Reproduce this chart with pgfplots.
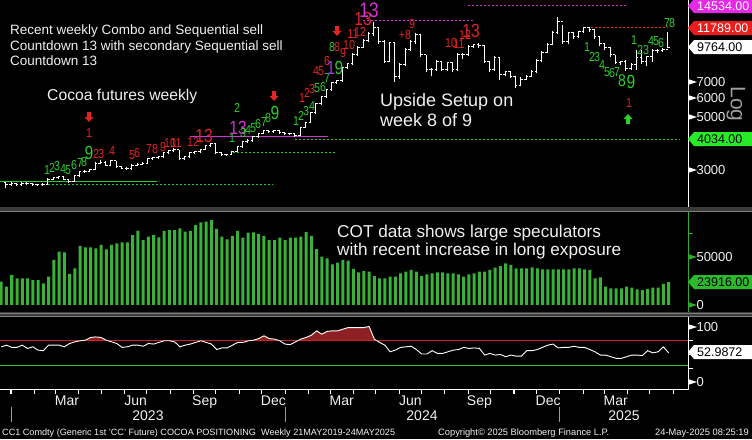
\documentclass[border=0pt]{standalone}
\usepackage{pgfplots}
\pgfplotsset{compat=1.18}
\usepackage{pgfplotstable}
\usepackage{fontspec}
\setmainfont{Liberation Sans}

\definecolor{tdgreen}{RGB}{45,205,45}
\definecolor{tdred}{RGB}{228,35,35}
\definecolor{tdmag}{RGB}{212,50,212}
\definecolor{tdpurple}{RGB}{150,60,215}
\definecolor{tagmag}{RGB}{232,40,232}
\definecolor{tagred}{RGB}{235,30,30}
\definecolor{taggreen}{RGB}{40,235,40}
\definecolor{cottag}{RGB}{45,185,45}
\definecolor{cotgreen}{RGB}{58,178,58}
\definecolor{cotaxis}{RGB}{50,170,50}
\definecolor{oscfill}{RGB}{140,32,34}
\definecolor{oscred}{RGB}{215,30,30}
\definecolor{oscgreen}{RGB}{50,195,50}
\definecolor{sepgray}{RGB}{58,58,58}
\definecolor{txt}{RGB}{240,240,240}

% open / close ticks of the weekly bars
\pgfdeclareplotmark{otick}{\pgfpathmoveto{\pgfqpoint{-2pt}{0pt}}\pgfpathlineto{\pgfqpoint{0pt}{0pt}}\pgfusepathqstroke}
\pgfdeclareplotmark{ctick}{\pgfpathmoveto{\pgfqpoint{0pt}{0pt}}\pgfpathlineto{\pgfqpoint{2pt}{0pt}}\pgfusepathqstroke}

% weekly OHLC, x = days since 1 Jan 2023
\pgfplotstableread{
d o h l c
-7 2650 2680 2523 2597
0 2597 2660 2580 2622
7 2622 2650 2570 2597
14 2597 2660 2580 2622
21 2622 2665 2590 2622
28 2622 2640 2570 2597
35 2597 2630 2565 2597
42 2597 2635 2560 2597
49 2600 2780 2590 2751
56 2751 2810 2730 2778
63 2778 2830 2750 2805
70 2805 2820 2730 2751
77 2751 2760 2650 2673
84 2673 2860 2660 2832
91 2832 2970 2815 2943
98 2943 3010 2920 2971
105 2971 3040 2940 3000
112 3000 3240 2990 3208
119 3208 3290 3180 3239
126 3239 3260 3120 3147
133 3147 3300 3130 3271
140 3271 3280 3060 3088
147 3088 3110 3030 3058
154 3058 3080 3000 3029
161 3029 3170 3010 3147
168 3147 3210 3120 3178
175 3178 3240 3150 3208
182 3208 3370 3190 3335
189 3335 3400 3310 3367
196 3367 3440 3340 3400
203 3400 3570 3380 3533
210 3533 3640 3500 3602
217 3602 3690 3570 3637
224 3637 3650 3300 3335
231 3335 3440 3310 3400
238 3400 3560 3380 3533
245 3533 3610 3500 3567
252 3567 3680 3540 3637
259 3637 3820 3620 3780
266 3780 3900 3750 3853
273 3853 3870 3500 3533
280 3533 3560 3430 3466
287 3466 3500 3430 3466
294 3466 3600 3450 3567
301 3567 3780 3550 3743
308 3743 3970 3720 3928
315 3928 4020 3900 3966
322 3966 4170 3940 4122
329 4122 4290 4090 4242
336 4242 4420 4220 4367
343 4367 4400 4280 4325
350 4325 4410 4290 4367
357 4367 4390 4250 4283
364 4283 4310 4200 4242
371 4242 4280 4200 4242
378 4242 4270 4130 4161
385 4161 4540 4140 4495
392 4495 4760 4470 4716
399 4716 5250 4690 5193
406 5193 5720 5160 5663
413 5663 6120 5600 6057
420 6057 6560 6000 6479
427 6479 7000 6400 6931
434 6931 7150 6850 7066
441 7066 8080 7000 8007
448 8007 8420 7950 8322
455 8322 9200 8250 9074
462 9074 9850 9000 9707
469 9707 10550 9650 10383
476 10383 11300 10300 11107
483 11107 12468 10900 11767
490 11767 11800 10100 10284
497 10284 10500 8400 8483
504 8483 10285 8450 10185
511 10185 10300 6998 7343
518 7343 8400 7200 8242
525 8242 9650 8150 9522
532 9522 10450 9400 10284
539 10284 11214 10100 11000
546 11000 11000 8900 9074
553 9074 9100 7700 7855
560 7855 8000 7400 7855
567 7855 8600 7800 8483
574 8483 8500 7750 7855
581 7855 8500 7800 8402
588 8402 8450 7700 7855
595 7855 9200 7800 9074
602 9074 9250 8700 9074
609 9074 9950 9000 9801
616 9801 10100 9700 9991
623 9991 10185 9700 9896
630 9896 9950 8400 8483
637 8483 8550 7700 7855
644 7855 8950 7800 8817
651 8817 8850 7134 7485
658 7485 7800 7400 7704
665 7704 7750 7250 7343
672 7343 7400 6605 6733
679 6733 7300 6700 7134
686 7134 7485 7100 7343
693 7343 7855 7300 7704
700 7704 8700 7650 8566
707 8566 9400 8500 9250
714 9250 10150 9200 9991
721 9991 11400 9950 11214
728 11214 13082 11100 12468
735 12468 12112 10088 10284
742 10284 11323 10100 11214
749 11214 11300 10600 10791
756 10791 11450 10700 11323
763 11323 11881 11200 11767
770 11767 11881 11300 11543
777 11543 11600 10600 10791
784 10791 10900 9900 10088
791 10088 10185 9522 9707
798 9707 9800 8900 9074
805 9074 9100 8300 8402
812 8402 8566 8242 8483
819 8483 8600 7779 7931
826 7931 8400 7855 8242
833 8242 9522 7855 8817
840 8817 9522 8322 8483
847 8483 9000 8150 8902
854 8902 9600 8483 9430
861 9430 9600 9250 9430
868 9430 9707 9340 9522
875 9522 11323 9707 9764
}\price

% COT large speculators net position and positioning index, weekly
\pgfplotstableread{
d cot osc
-13 24300 64
-6 19100 67
1 31250 63
8 27800 63
15 27800 67
22 27800 61
29 26000 64
36 26000 58
43 22600 57
50 29500 67
57 46900 67
64 55500 67
71 54900 64
78 32300 70
85 38200 73
92 61500 75
99 60100 76
106 60100 81
113 59000 82
120 62500 81
127 58000 76
134 62500 73
141 64200 70
148 65300 63
155 65300 64
162 72900 67
169 77400 67
176 67700 65
183 71200 70
190 72900 69
197 70500 72
204 77100 75
211 78100 75
218 78100 73
225 79900 64
232 76400 67
239 77100 69
246 83300 72
253 86100 75
260 86800 72
267 88500 69
274 79200 59
281 71200 62
288 68400 62
295 71900 67
302 77100 72
309 70100 72
316 75300 75
323 75700 76
330 74000 79
337 71900 84
344 67700 79
351 67700 78
358 70100 75
365 67700 69
372 70100 68
379 70100 73
386 71200 78
393 76000 81
400 71900 85
407 58300 93
414 50300 87
421 48600 92
428 42400 93
435 44100 93
442 46900 96
449 46200 99
456 37500 99
463 34000 99
470 35400 99
477 34700 101
484 30200 78
491 27800 72
498 27800 67
505 29500 55
512 29500 58
519 33000 63
526 34700 64
533 36500 65
540 34700 59
547 30200 51
554 31900 51
561 33000 57
568 34000 52
575 34000 52
582 33000 55
589 33000 58
596 31900 59
603 29500 63
610 31900 61
617 33000 62
624 34700 61
631 34700 49
638 36500 52
645 38900 49
652 40600 50
659 43400 46
666 41700 49
673 38200 47
680 38200 47
687 38200 57
694 39200 57
701 38200 59
708 37200 63
715 37200 67
722 37200 69
729 37200 62
736 37200 63
743 37200 63
750 38200 65
757 38200 63
764 37200 63
771 36500 59
778 27800 55
785 28800 49
792 19100 49
799 17400 46
806 17400 43
813 17400 43
820 19100 46
827 18100 49
834 16300 49
841 15600 48
848 16700 57
855 18100 53
862 18100 55
869 21900 64
876 23916 53
}\cot

\pgfplotsset{bbg/.style={
  scale only axis, width=688pt, anchor=south west,
  xmin=-14.65, xmax=901.8,
  separate axis lines,
  axis y line*=right,
  y axis line style={white, line width=1pt, -},
  tick align=outside, major tick length=5pt,
  tick style={white, line width=1pt},
  yticklabel style={text=txt, font=\fontsize{13}{13}\selectfont},
}}
\pgfplotsset{nox/.style={axis x line*=bottom, x axis line style={draw=none}, xtick=\empty}}

\newcommand\td[5]{\node[text=#3, font=\fontsize{#4}{#4}\selectfont, inner sep=0pt, xscale=0.82] at (#1,#2) {#5};}
\newcommand\tagbox[4]{\fill[#2] (688,#1) -- (694,#1-7) -- (752,#1-7) -- (752,#1+7) -- (694,#1+7) -- cycle;
  \node[text=#3, anchor=west, inner sep=0pt, font=\fontsize{12.5}{12.5}\selectfont] at (697,#1) {#4};}
\newcommand\darrow[3]{\fill[#3] (#1-2,#2-5) -- (#1+2,#2-5) -- (#1+2,#2) -- (#1+4.5,#2) -- (#1,#2+5) -- (#1-4.5,#2) -- (#1-2,#2) -- cycle;}
\newcommand\uarrow[3]{\fill[#3] (#1-2,#2+5) -- (#1+2,#2+5) -- (#1+2,#2) -- (#1+4.5,#2) -- (#1,#2-5) -- (#1-4.5,#2) -- (#1-2,#2) -- cycle;}
\newcommand\tri[2]{\fill[#2] (688.5,#1-2.8) -- (697,#1) -- (688.5,#1+2.8) -- cycle;}

\begin{document}
\begin{tikzpicture}
\fill[black] (0,0) rectangle (752pt,-439pt);

% ---- price panel ----
\begin{axis}[bbg, nox, at={(0pt,-207pt)}, height=207pt,
  ymode=log, ymin=2101, ymax=15370,
  ytick={3000,5000,6000,7000}, yticklabels={3000,5000,6000,7000}, minor ytick={},
]
\addplot[tdgreen, line width=1pt] coordinates {(-15,2673) (194,2673)};
\addplot[tdgreen, line width=1pt, dash pattern=on 2pt off 2pt] coordinates {(49,2597) (349,2597)};
\addplot[tdgreen, line width=1pt, dash pattern=on 2pt off 2pt] coordinates {(296,3533) (434,3533)};
\addplot[tdgreen, line width=1pt, dash pattern=on 2pt off 2pt] coordinates {(378,4034) (891,4034)};
\addplot[tdmag, line width=1.2pt] coordinates {(238,4141) (422,4141)};
\addplot[tdmag, line width=1pt, dash pattern=on 2pt off 2pt] coordinates {(469,12620) (615,12620)};
\addplot[tdmag, line width=1pt, dash pattern=on 2pt off 2pt] coordinates {(609,14534) (821,14534)};
\addplot[tdred, line width=1pt, dash pattern=on 2pt off 2pt] coordinates {(767,11789) (874,11789)};
\addplot[white, line width=0.9pt, only marks, mark=ctick,
  error bars/.cd, y dir=both, y explicit, error mark=none,
  error bar style={white, line width=0.9pt}]
  table[x=d, y=c, y error plus expr={\thisrow{h}-\thisrow{c}},
        y error minus expr={\thisrow{c}-\thisrow{l}}] {\price};
\addplot[white, line width=0.9pt, only marks, mark=otick] table[x=d, y=o] {\price};
\end{axis}

% ---- COT panel ----
\begin{axis}[bbg, nox, at={(0pt,-312pt)}, height=100pt,
  ymin=-7300, ymax=96875,
  y axis line style={cotaxis, line width=1pt, -}, tick style={cotaxis, line width=1pt},
  ytick={0,50000}, yticklabels={0,50000}, scaled y ticks=false,
  extra y ticks={75000}, extra y tick labels={},
]
\addplot[ybar, bar width=4, fill=cotgreen, draw=none] table[x=d, y=cot] {\cot};
\end{axis}

% ---- positioning index panel ----
\begin{axis}[bbg, at={(0pt,-389pt)}, height=72pt,
  ymin=-12.7, ymax=118.2,
  axis x line*=bottom, x axis line style={white, line width=1pt, -},
  xtick={0,31,59,90,120,151,181,212,243,273,304,334,365,396,425,456,486,517,547,578,609,639,670,700,731,762,790,821,851,882},
  xticklabels={},
  extra x ticks={74.5,166,258,349.5,440.5,532,624,715.5,805.5},
  extra x tick labels={Mar,Jun,Sep,Dec,Mar,Jun,Sep,Dec,Mar},
  extra x tick style={major tick length=0pt},
  xticklabel style={text=txt, font=\fontsize{14}{14}\selectfont, anchor=base, yshift=-16pt},
  ytick={0,100}, yticklabels={0,100},
  extra y ticks={25,50,75}, extra y tick labels={},
]
% area of the index above 75, then masked below the 75 level
\addplot[fill=oscfill, draw=none] table[x=d, y=osc] {\cot} \closedcycle;
\fill[black] (axis cs:-20,-13) rectangle (axis cs:910,75);
\addplot[oscred, line width=1.2pt] coordinates {(-15,75) (902,75)};
\addplot[oscgreen, line width=1.2pt] coordinates {(-15,30) (902,30)};
\addplot[white, line width=0.9pt] table[x=d, y=osc] {\cot};
\end{axis}

\begin{scope}[x=1pt, y=-1pt]
% separators and axis lines
\fill[sepgray] (0,207) rectangle (752,212);
\draw[gray, line width=0.8pt] (0,211.3) -- (752,211.3);
\fill[sepgray] (0,312) rectangle (752,317);
\draw[gray, line width=0.8pt] (0,313) -- (752,313) (0,316.5) -- (752,316.5);
\draw[white, line width=1pt] (688,0) -- (688,207) (688,317) -- (688,389.5) (0,389.5) -- (688.5,389.5);
\draw[cotaxis, line width=1pt] (688,212) -- (688,312);
\foreach \m in {11,34.3,55.3,78.6,101.1,124.4,146.9,170.2,193.4,215.9,239.2,261.7,285,308.3,330,353.3,375.8,399.1,421.6,444.9,468.2,490.7,514,536.5,559.8,583,604,627.3,649.8,673.1}
  \draw[white, line width=1pt] (\m,389.5) -- (\m,394);
\tri{82}{white}\tri{98}{white}\tri{117}{white}\tri{170}{white}
\tri{257}{cotaxis}\tri{305}{cotaxis}
\tri{327}{white}\tri{382}{white}

% notes
\node[anchor=base west, text=txt, inner sep=0pt, font=\fontsize{13.5}{13.5}\selectfont] at (10,34.3) {Recent weekly Combo and Sequential sell};
\node[anchor=base west, text=txt, inner sep=0pt, font=\fontsize{13.5}{13.5}\selectfont] at (10,50) {Countdown 13 with secondary Sequential sell};
\node[anchor=base west, text=txt, inner sep=0pt, font=\fontsize{13.5}{13.5}\selectfont] at (10,65.7) {Countdown 13};
\node[anchor=base west, text=txt, inner sep=0pt, font=\fontsize{15.7}{15.7}\selectfont] at (47,100.7) {Cocoa futures weekly};
\node[anchor=base west, text=txt, inner sep=0pt, font=\fontsize{18}{18}\selectfont] at (380,106) {Upside Setup on};
\node[anchor=base west, text=txt, inner sep=0pt, font=\fontsize{18}{18}\selectfont] at (380,126.7) {week 8 of 9};
\node[anchor=base west, text=txt, inner sep=0pt, font=\fontsize{17.2}{17.2}\selectfont] at (337,237.3) {COT data shows large speculators};
\node[anchor=base west, text=txt, inner sep=0pt, font=\fontsize{17.2}{17.2}\selectfont] at (337,255.7) {with recent increase in long exposure};

% TD counts
\td{47}{170}{tdgreen}{13}{1}\td{52}{168}{tdgreen}{13}{2}\td{57}{166}{tdgreen}{13}{3}
\td{63}{169}{tdgreen}{13}{4}\td{68}{170}{tdgreen}{13}{5}\td{74}{165}{tdgreen}{13}{6}
\td{80}{163}{tdgreen}{13}{7}\td{84}{162}{tdgreen}{13}{8}\td{89}{153}{tdgreen}{19}{9}
\td{89}{133}{tdred}{13}{1}\td{96}{154}{tdred}{13}{2}\td{101}{154}{tdred}{13}{3}
\td{112}{151}{tdred}{13}{4}\td{132}{155}{tdred}{13}{5}\td{137}{153}{tdred}{13}{6}
\td{149}{149}{tdred}{13}{7}\td{155}{149}{tdred}{13}{8}\td{163}{147}{tdred}{13}{9}
\td{170}{143}{tdred}{13}{10}\td{176}{143}{tdred}{13}{11}\td{193}{142}{tdred}{13}{12}
\td{204}{136}{tdred}{19}{13}
\td{232}{138}{tdgreen}{13}{1}\td{237}{108}{tdgreen}{13}{2}
\td{238}{128}{tdmag}{19}{13}
\td{243}{133}{tdgreen}{13}{3}\td{248}{130}{tdgreen}{13}{4}\td{253}{128}{tdgreen}{13}{5}
\td{258}{124}{tdgreen}{13}{6}\td{264}{122}{tdgreen}{13}{7}\td{268}{118}{tdgreen}{13}{8}
\td{275}{113}{tdgreen}{19}{9}
\td{296}{121}{tdgreen}{13}{1}\td{301}{116}{tdgreen}{13}{2}\td{306}{111}{tdgreen}{13}{3}
\td{312}{106}{tdgreen}{13}{4}\td{317}{88}{tdgreen}{13}{5}\td{323}{87}{tdgreen}{13}{6}
\td{327}{78}{tdgreen}{13}{7}\td{332}{47}{tdgreen}{13}{8}
\td{302}{98}{tdred}{13}{1}\td{307}{93}{tdred}{13}{2}\td{312}{89}{tdred}{13}{3}
\td{316}{71}{tdred}{13}{4}\td{321}{71}{tdred}{13}{5}\td{327}{61}{tdred}{13}{6}
\td{331}{68}{tdpurple}{19}{1}\td{339}{68}{tdgreen}{19}{9}
\td{337}{47}{tdred}{13}{8}\td{343}{53}{tdred}{13}{9}\td{349}{45}{tdred}{13}{10}
\td{353}{34}{tdred}{13}{11}\td{360}{32}{tdred}{13}{12}\td{363}{19}{tdred}{19}{13}
\td{369}{10}{tdmag}{21}{13}
\td{405}{35}{tdred}{13}{+8}\td{412}{24}{tdred}{13}{9}
\td{451}{43}{tdred}{13}{10}\td{459}{44}{tdred}{13}{11}\td{465}{35}{tdred}{13}{12}
\td{471}{31}{tdred}{19}{13}
\td{587}{47}{tdgreen}{13}{1}\td{592}{57}{tdgreen}{13}{2}\td{597}{57}{tdgreen}{13}{3}
\td{602}{65}{tdgreen}{13}{4}\td{607}{72}{tdgreen}{13}{5}\td{612}{73}{tdgreen}{13}{6}
\td{617}{72}{tdgreen}{13}{7}\td{622}{81}{tdgreen}{17}{8}\td{631}{82}{tdgreen}{19}{9}
\td{629}{103}{tdred}{13}{1}
\td{634}{40}{tdgreen}{13}{1}\td{640}{50}{tdgreen}{13}{2}\td{646}{50}{tdgreen}{13}{3}
\td{651}{41}{tdgreen}{13}{4}\td{656}{41}{tdgreen}{13}{5}\td{661}{43}{tdgreen}{13}{6}
\td{667}{23}{tdgreen}{13}{7}\td{672}{23}{tdgreen}{13}{8}
\darrow{89}{117}{tdred}\darrow{274}{96}{tdred}\darrow{337}{31}{tdred}
\uarrow{628}{119}{tdgreen}

% right side tags
\node[rotate=-90, text=gray!75, inner sep=0pt, font=\fontsize{21}{21}\selectfont] at (736,104) {Log};
\tagbox{6}{tagmag}{white}{14534.00}
\tagbox{28}{tagred}{white}{11789.00}
\tagbox{47}{white}{black}{9764.00}
\tagbox{139}{taggreen}{black}{4034.00}
\tagbox{282}{cottag}{black}{23916.00}
\tagbox{352}{white}{black}{52.9872}

% years
\draw[gray!80, line width=0.8pt] (11,407) -- (11,422) (285,407) -- (285,422) (559,407) -- (559,422);
\node[anchor=base, text=txt, inner sep=0pt, font=\fontsize{14}{14}\selectfont] at (148,420) {2023};
\node[anchor=base, text=txt, inner sep=0pt, font=\fontsize{14}{14}\selectfont] at (422,420) {2024};
\node[anchor=base, text=txt, inner sep=0pt, font=\fontsize{14}{14}\selectfont] at (624,420) {2025};

% footer
\node[anchor=base west, text=txt, inner sep=0pt, font=\fontsize{9.1}{9.1}\selectfont] at (2,435) {CC1 Comdty (Generic 1st 'CC' Future) COCOA POSITIONING\ \ Weekly 21MAY2019-24MAY2025};
\node[anchor=base west, text=txt, inner sep=0pt, font=\fontsize{9.3}{9.3}\selectfont] at (438,435) {Copyright© 2025 Bloomberg Finance L.P.};
\node[anchor=base east, text=txt, inner sep=0pt, font=\fontsize{9.3}{9.3}\selectfont] at (749,435) {24-May-2025 08:25:19};
\end{scope}

\pgfresetboundingbox
\useasboundingbox (0,0) rectangle (752pt,-439pt);
\end{tikzpicture}
\end{document}
